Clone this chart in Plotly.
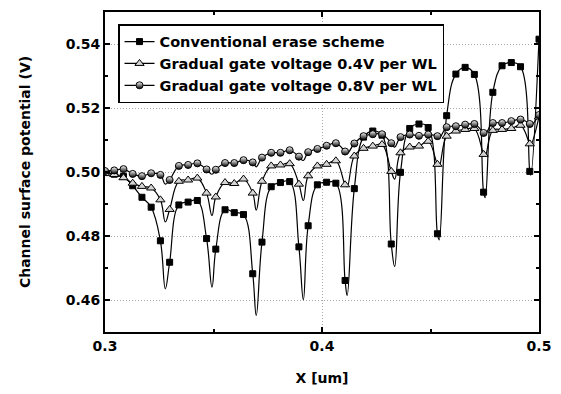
import numpy as np
import plotly.graph_objects as go

# sampled positions (48 evenly spaced points from 0.3 to 0.5 um)
x_pts = np.linspace(0.3, 0.5, 48)

conventional = [0.4999, 0.4993, 0.4986, 0.4957, 0.4921, 0.4890, 0.4785, 0.4718,
                0.4897, 0.4906, 0.4911, 0.4792, 0.4759, 0.4882, 0.4873, 0.4867,
                0.4682, 0.4781, 0.4954, 0.4967, 0.4970, 0.4766, 0.4832, 0.4960,
                0.4968, 0.4965, 0.4661, 0.4948, 0.5109, 0.5128, 0.5115, 0.4775,
                0.4999, 0.5136, 0.5150, 0.5139, 0.4807, 0.5176, 0.5306, 0.5327,
                0.5305, 0.4937, 0.5249, 0.5332, 0.5342, 0.5329, 0.5002, 0.5415]

gradual_04 = [0.4995, 0.4992, 0.4982, 0.4965, 0.4955, 0.4950, 0.4913, 0.4883,
              0.4971, 0.4975, 0.4981, 0.4934, 0.4922, 0.4967, 0.4964, 0.4978,
              0.4934, 0.4971, 0.5019, 0.5022, 0.5026, 0.4962, 0.4988, 0.5019,
              0.5024, 0.5035, 0.4960, 0.5050, 0.5074, 0.5081, 0.5086, 0.5002,
              0.5060, 0.5078, 0.5081, 0.5096, 0.5024, 0.5112, 0.5128, 0.5133,
              0.5136, 0.5055, 0.5130, 0.5133, 0.5136, 0.5146, 0.5088, 0.5172]

gradual_08 = [0.5003, 0.5005, 0.5009, 0.4994, 0.4987, 0.4996, 0.4991, 0.4975,
              0.5019, 0.5022, 0.5027, 0.5008, 0.5007, 0.5028, 0.5028, 0.5037,
              0.5030, 0.5045, 0.5060, 0.5060, 0.5068, 0.5048, 0.5062, 0.5072,
              0.5082, 0.5090, 0.5064, 0.5089, 0.5112, 0.5118, 0.5118, 0.5090,
              0.5109, 0.5117, 0.5113, 0.5117, 0.5112, 0.5140, 0.5143, 0.5148,
              0.5150, 0.5122, 0.5153, 0.5153, 0.5159, 0.5164, 0.5150, 0.5178]

# dip minima of the continuous curves (between sampled points)
dip_x = [0.3278, 0.3493, 0.3697, 0.3914, 0.4116, 0.4335, 0.4540, 0.4752, 0.4962]
conventional_dip = [0.4635, 0.4640, 0.4552, 0.4601, 0.4614, 0.4704, 0.4788, 0.4920, 0.4990]
gradual_04_dip = [0.4844, 0.4864, 0.4881, 0.4911, 0.4954, 0.4978, 0.5018, 0.5050, 0.5085]
gradual_08_dip = [0.4962, 0.4993, 0.5016, 0.5036, 0.5058, 0.5078, 0.5105, 0.5118, 0.5145]

names = ["Conventional erase scheme",
         "Gradual gate voltage 0.4V per WL",
         "Gradual gate voltage 0.8V per WL"]

y_ticks = [0.46, 0.48, 0.50, 0.52, 0.54]
x_ticks = [0.3, 0.4, 0.5]

FONT = "'DejaVu Sans', Arial, sans-serif"

markers = [
    dict(symbol="square", size=6, color="black", line=dict(color="black", width=1)),
    dict(symbol="triangle-up", size=8, color="#d4d4d4", line=dict(color="black", width=1)),
    dict(symbol="circle", size=7, color="white",
         gradient=dict(type="vertical", color="black"),
         line=dict(color="black", width=1)),
]

fig = go.Figure()
series = [(conventional, conventional_dip), (gradual_04, gradual_04_dip), (gradual_08, gradual_08_dip)]
for i, (vals, dips) in enumerate(series):
    xs = list(x_pts) + dip_x
    ys = list(vals) + dips
    order = np.argsort(xs)
    xs = [xs[j] for j in order]
    ys = [ys[j] for j in order]
    fig.add_trace(go.Scatter(x=xs, y=ys, mode="lines",
                             line=dict(color="black", width=1.2, shape="spline", smoothing=1.15),
                             showlegend=False, hoverinfo="skip"))
for i, (vals, dips) in enumerate(series):
    fig.add_trace(go.Scatter(x=x_pts, y=vals, mode="markers", marker=markers[i],
                             showlegend=False))
for i in range(3):
    fig.add_trace(go.Scatter(x=[None], y=[None], mode="lines+markers", name=names[i],
                             marker=markers[i], line=dict(color="black", width=1.2)))

fig.update_layout(
    width=561, height=394,
    margin=dict(l=105, r=19, t=10, b=61),
    plot_bgcolor="white", paper_bgcolor="white",
    font=dict(family=FONT, size=14, color="black", weight="bold"),
    legend=dict(x=0.03, y=0.962, xanchor="left", yanchor="top",
                bordercolor="black", borderwidth=1.5, bgcolor="white",
                font=dict(family=FONT, size=14.5, weight="bold"),
                tracegroupgap=0, itemwidth=30),
)
fig.update_xaxes(
    range=[0.3, 0.5], tickvals=x_ticks, ticktext=[f"{v:.1f}" for v in x_ticks],
    showline=True, linecolor="black", linewidth=2, mirror="allticks",
    ticks="inside", ticklen=5, tickwidth=1.5, tickcolor="black",
    minor=dict(tickvals=[0.35, 0.45], ticks="inside", ticklen=3, tickwidth=1.5, tickcolor="black", showgrid=False),
    showgrid=True, gridcolor="#a8a8a8", griddash="1px,2px", gridwidth=1,
    zeroline=False,
    title=dict(text="X [um]", font=dict(size=14, weight="bold"), standoff=20),
    tickfont=dict(size=14, weight="bold"),
)
fig.update_yaxes(
    range=[0.45, 0.55], tickvals=y_ticks, ticktext=[f"{v:.2f}" for v in y_ticks],
    showline=True, linecolor="black", linewidth=2, mirror="allticks",
    ticks="inside", ticklen=5, tickwidth=1.5, tickcolor="black",
    minor=dict(tickvals=[0.45, 0.47, 0.49, 0.51, 0.53, 0.55], ticks="inside", ticklen=3, tickwidth=1.5, tickcolor="black", showgrid=False),
    showgrid=True, gridcolor="#a8a8a8", griddash="1px,2px", gridwidth=1,
    zeroline=False,
    title=dict(text="Channel surface potential (V)", font=dict(size=14, weight="bold"), standoff=32),
    tickfont=dict(size=14, weight="bold"),
)

fig.write_html("out.html")
